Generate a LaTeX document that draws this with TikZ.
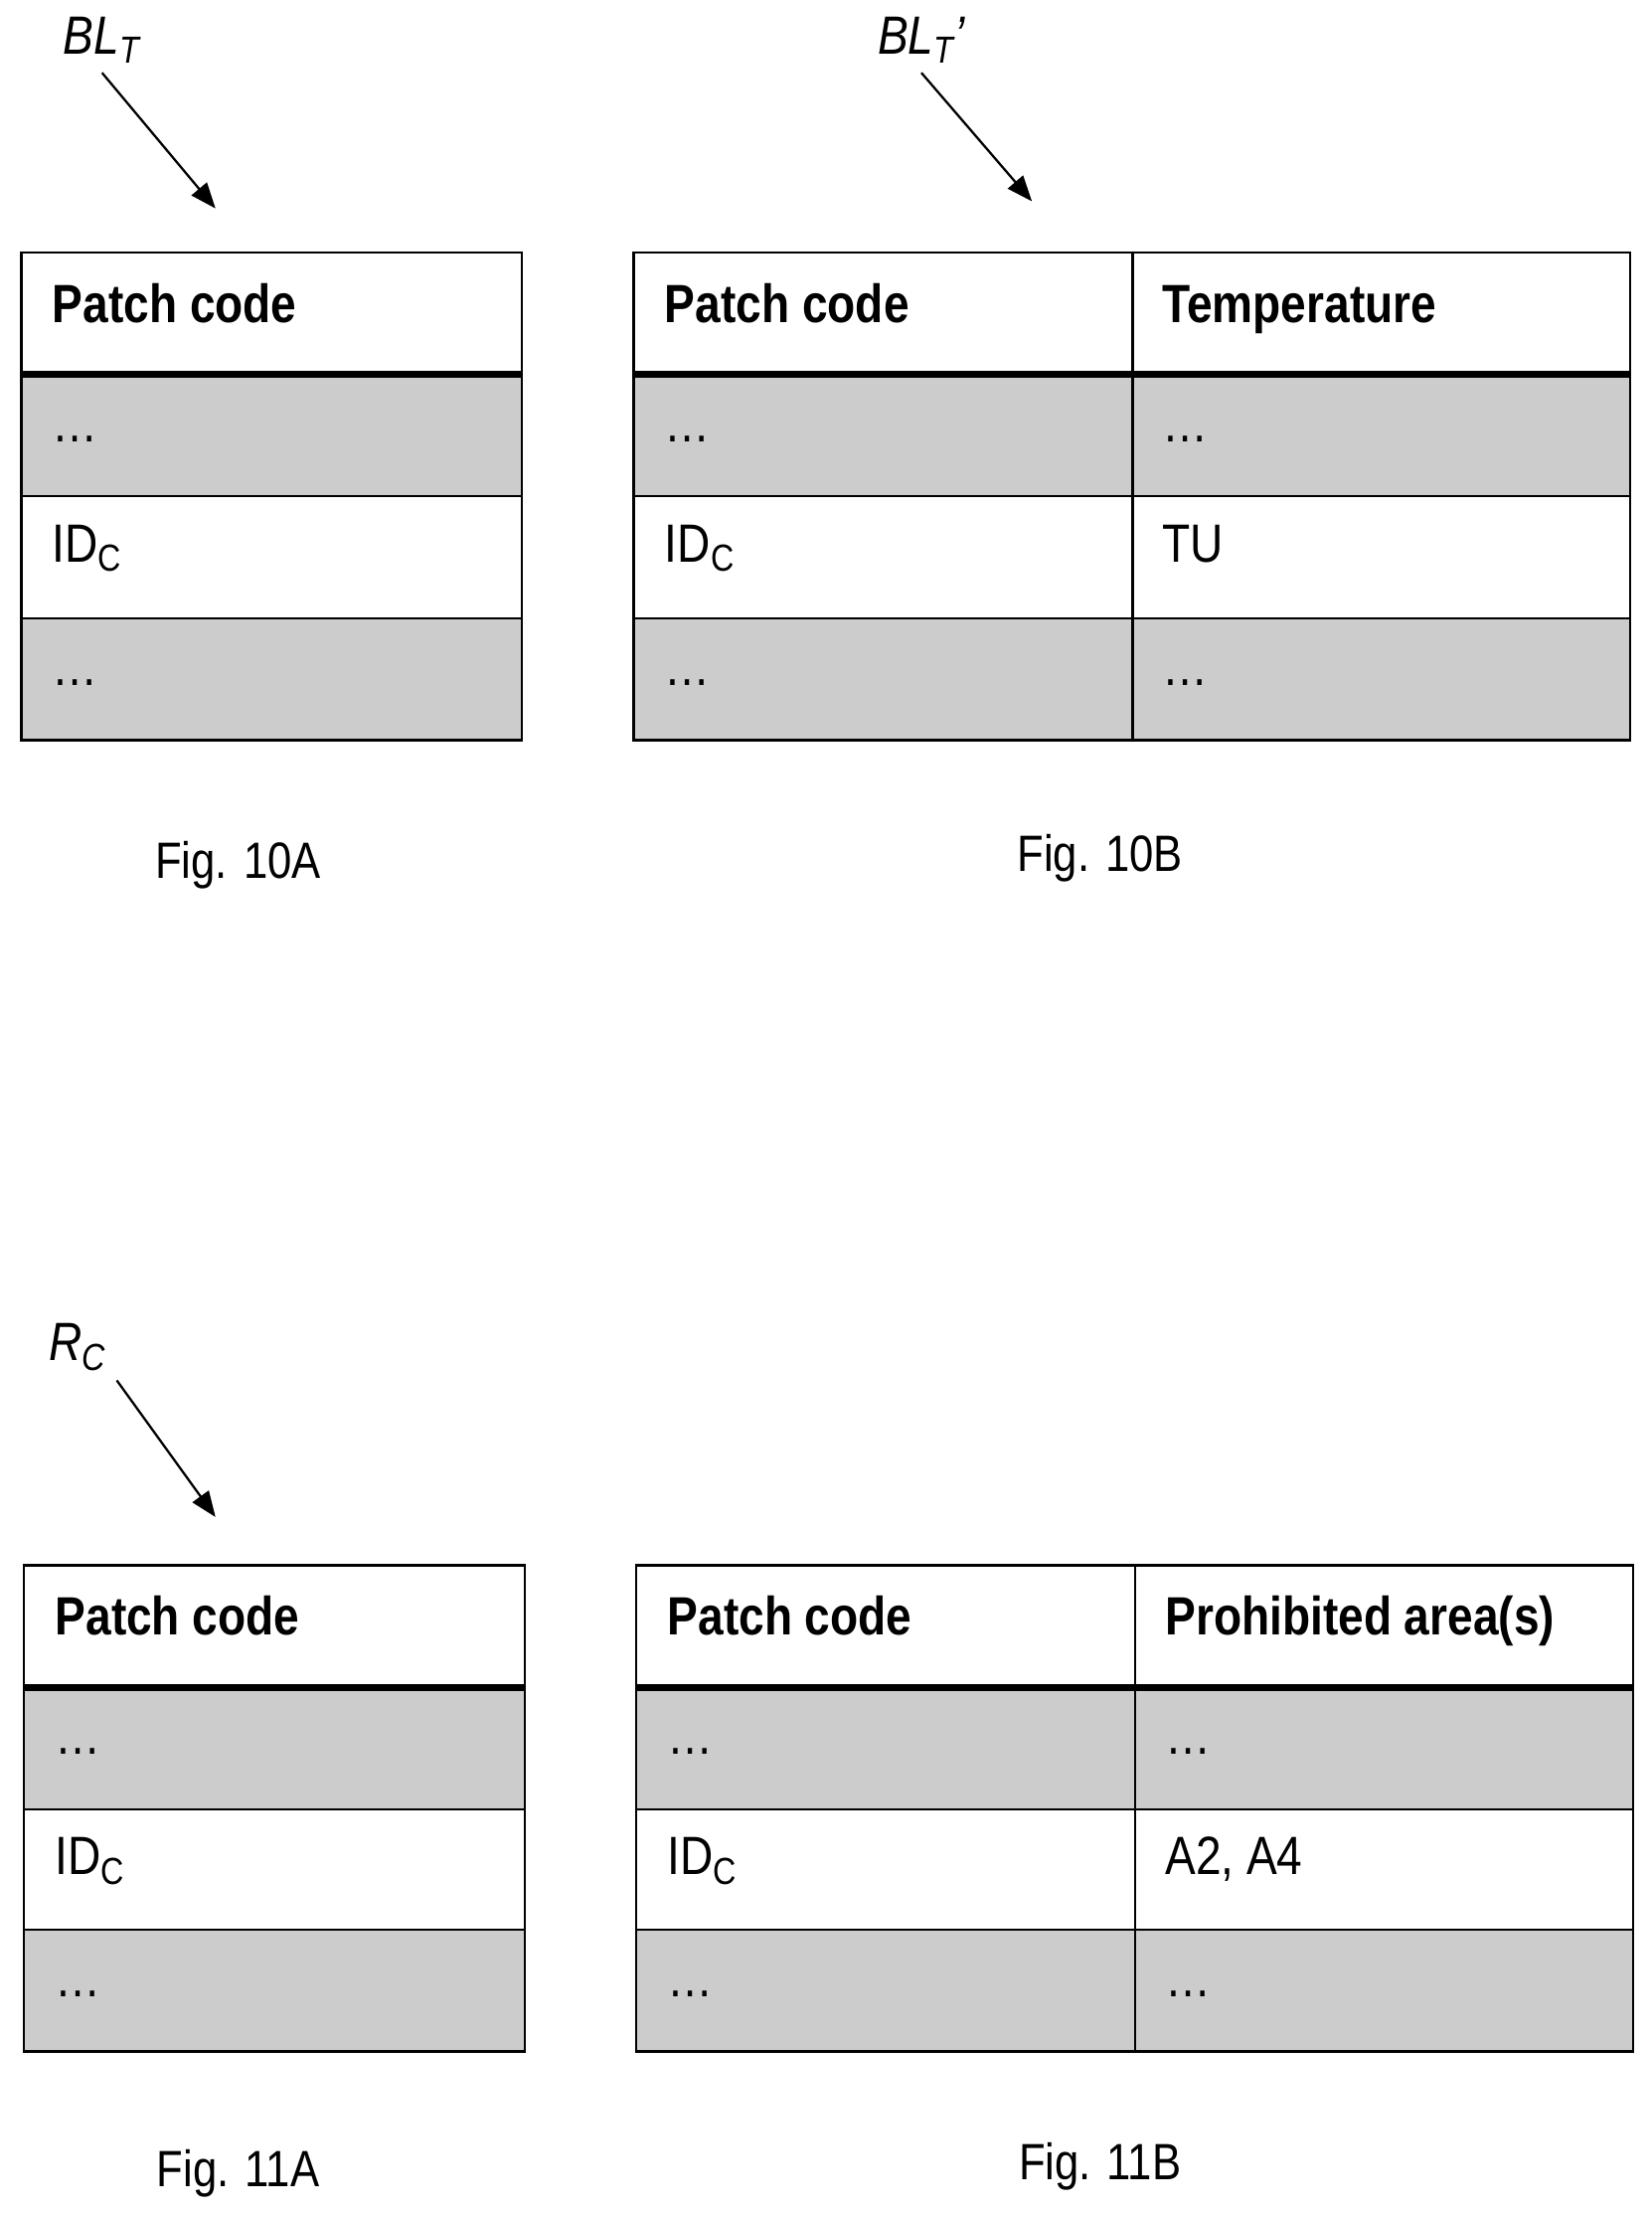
\documentclass[tikz,border=0pt]{standalone}
\usepackage{fontspec}
\setmainfont{Liberation Sans}[FakeStretch=0.85]
\usetikzlibrary{calc,arrows.meta}
\tikzset{
    cell/.style={anchor=west, text height=1.6ex, text depth=0.4ex, font=\fontsize{19}{22}\selectfont},
    head/.style={cell, font=\fontsize{19}{22}\selectfont\bfseries},
    shade/.style={fill=gray!40},
    tag/.style={font=\fontsize{19}{22}\selectfont\itshape},
    figlabel/.style={font=\fontsize{18}{21}\selectfont},
    pointer/.style={-{Triangle[length=9pt,width=7pt]}, thick},
}
\begin{document}
\begin{tikzpicture}[x=0.5pt,y=-0.5pt]
    \useasboundingbox (0,0) rectangle (1165,1563);
    % Fig. 10A
    \fill[shade] (15,264) rectangle (368,350);
    \fill[shade] (15,436) rectangle (368,522);
    \draw[thick] (15,178) rectangle (368,522);
    \draw[thick] (15,350) -- (368,350) (15,436) -- (368,436);
    \draw[line width=2.5pt] (15,264) -- (368,264);
    \node[head] (pa) at (30,221) {Patch code};
    \node[cell] (da1) at (30,305) {…};
    \node[cell] (ia) at (30,390) {ID\textsubscript{C}};
    \node[cell] (da2) at (30,477) {…};
    \node[tag] (bla) at (72,28) {BL\textsubscript{\itshape T}};
    \coordinate (bla end) at (152,147);
    \draw[pointer] (bla.south) -- (bla end);
    \node[figlabel] (fa) at (168,610) {Fig. 10A};
    % Fig. 10B
    \fill[shade] (447,264) rectangle (1150,350);
    \fill[shade] (447,436) rectangle (1150,522);
    \draw[thick] (447,178) rectangle (1150,522);
    \draw[thick] (447,350) -- (1150,350) (447,436) -- (1150,436) (799,178) -- (799,522);
    \draw[line width=2.5pt] (447,264) -- (1150,264);
    \node[head] (pb) at (462,221) {Patch code};
    \node[head] (tb) at (813,221) {Temperature};
    \node[cell] (db1) at (462,305) {…};
    \node[cell] (db2) at (813,305) {…};
    \node[cell] (ib) at (462,390) {ID\textsubscript{C}};
    \node[cell] (ub) at (813,390) {TU};
    \node[cell] (db3) at (462,477) {…};
    \node[cell] (db4) at (813,477) {…};
    \node[tag] (blb) at (650,28) {BL\textsubscript{\itshape T}’};
    \coordinate (blb end) at (728,142);
    \draw[pointer] (blb.south) -- (blb end);
    \node[figlabel] (fb) at (776,605) {Fig. 10B};
    % Fig. 11A
    \fill[shade] (17,1190) rectangle (370,1276);
    \fill[shade] (17,1361) rectangle (370,1447);
    \draw[thick] (17,1104) rectangle (370,1447);
    \draw[thick] (17,1276) -- (370,1276) (17,1361) -- (370,1361);
    \draw[line width=2.5pt] (17,1190) -- (370,1190);
    \node[head] (pc) at (32,1147) {Patch code};
    \node[cell] (dc1) at (32,1231) {…};
    \node[cell] (ic) at (32,1316) {ID\textsubscript{C}};
    \node[cell] (dc2) at (32,1402) {…};
    \node[tag] (rc) at (55,950) {R\textsubscript{\itshape C}};
    \coordinate (rc end) at (152,1070);
    \draw[pointer] (rc.south east) -- (rc end);
    \node[figlabel] (fc) at (168,1533) {Fig. 11A};
    % Fig. 11B
    \fill[shade] (449,1190) rectangle (1152,1276);
    \fill[shade] (449,1361) rectangle (1152,1447);
    \draw[thick] (449,1104) rectangle (1152,1447);
    \draw[thick] (449,1276) -- (1152,1276) (449,1361) -- (1152,1361) (801,1104) -- (801,1447);
    \draw[line width=2.5pt] (449,1190) -- (1152,1190);
    \node[head] (pd) at (464,1147) {Patch code};
    \node[head] (ad) at (815,1147) {Prohibited area(s)};
    \node[cell] (dd1) at (464,1231) {…};
    \node[cell] (dd2) at (815,1231) {…};
    \node[cell] (id) at (464,1316) {ID\textsubscript{C}};
    \node[cell] (vd) at (815,1316) {A2, A4};
    \node[cell] (dd3) at (464,1402) {…};
    \node[cell] (dd4) at (815,1402) {…};
    \node[figlabel] (fd) at (776,1528) {Fig. 11B};
\end{tikzpicture}
\end{document}
